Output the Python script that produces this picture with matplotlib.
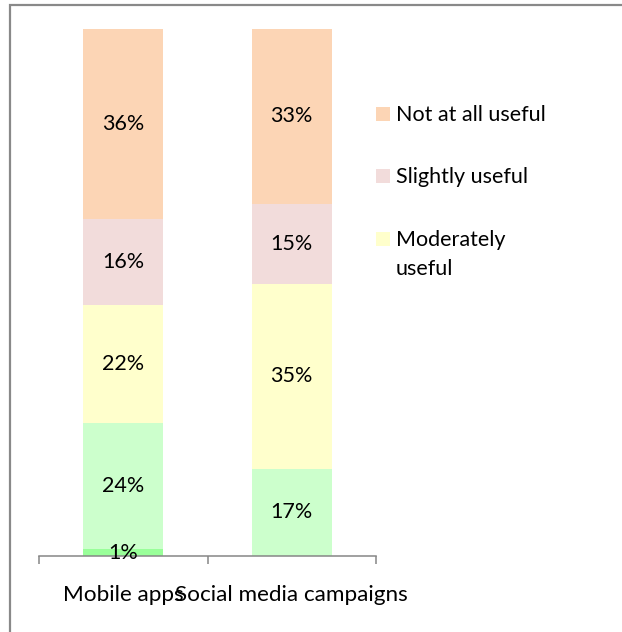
import matplotlib
matplotlib.use("Agg")
from matplotlib import pyplot as plt
from matplotlib.patches import Rectangle
import numpy as np

plt.rcParams['font.family'] = ['Lato', 'DejaVu Sans']

categories = ["Mobile apps", "Social media campaigns"]

# bottom to top
series_names = ["Extremely useful", "Very useful", "Moderately useful",
                "Slightly useful", "Not at all useful"]
extremely = [1.3, 0.0]
very = [23.9, 16.6]
moderately = [22.4, 35.0]
slightly = [16.4, 15.2]
not_at_all = [36.0, 33.2]

colors = ["#99FF99", "#CCFFCC", "#FFFFCC", "#F2DCDB", "#FCD5B5"]

# legend only shows these (cut off in original)
legend_names = ["Not at all useful", "Slightly useful", "Moderately\nuseful"]
legend_colors = ["#FCD5B5", "#F2DCDB", "#FFFFCC"]

W, H = 622, 632
FS = 15.5
GRAY = "#868686"

fig = plt.figure(figsize=(W / 100, H / 100), dpi=100)
ax = fig.add_axes([39 / W, 76 / H, 337 / W, 527 / H])

x = np.arange(len(categories))
bottom = np.zeros(len(categories))
for vals, col in zip([extremely, very, moderately, slightly, not_at_all], colors):
    vals = np.array(vals)
    bars = ax.bar(x, vals, bottom=bottom, width=0.475, color=col, edgecolor="none")
    labs = ["%d%%" % round(v) if v > 0 else "" for v in vals]
    ax.bar_label(bars, labels=labs, label_type="center", fontsize=FS, color="black")
    bottom += vals

ax.set_xlim(-0.5, 1.5)
ax.set_ylim(0, 100)
for s in ["top", "right", "left"]:
    ax.spines[s].set_visible(False)
ax.spines["bottom"].set_color(GRAY)
ax.spines["bottom"].set_linewidth(1.1)
ax.set_yticks([])
ax.set_xticks(x, categories, fontsize=16.2)
ax.tick_params(axis="x", which="major", length=0, pad=21)
ax.set_xticks([-0.5, 0.5, 1.5], minor=True)
ax.tick_params(axis="x", which="minor", length=5.8, width=1.1, color=GRAY, direction="out")

# legend drawn by hand to match layout
sq_tops = [107, 169, 232]
for name, col, top in zip(legend_names, legend_colors, sq_tops):
    fig.add_artist(Rectangle((376 / W, 1 - (top + 14) / H), 14 / W, 14 / H,
                             transform=fig.transFigure, facecolor=col, edgecolor="none"))
    for i, line in enumerate(name.split("\n")):
        fig.text(396 / W, 1 - (top + 14 + 29 * i) / H, line, fontsize=FS,
                 va="baseline", ha="left")

# chart frame
fig.add_artist(Rectangle((10 / W, -0.2), 1.5, 1 - 5 / H + 0.2, transform=fig.transFigure,
                         fill=False, edgecolor="#898989", linewidth=1.6))

fig.savefig("out.png", dpi=100)
